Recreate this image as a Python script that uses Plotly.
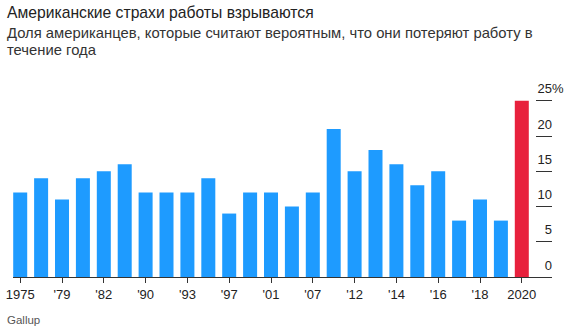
import plotly.graph_objects as go

years = ["1975", "1977", "1979", "1980", "1982", "1989", "1990", "1991", "1993",
         "1995", "1997", "1999", "2001", "2005", "2007", "2009", "2012", "2013",
         "2014", "2015", "2016", "2017", "2018", "2019", "2020"]
values = [12, 14, 11, 14, 15, 16, 12, 12, 12, 14, 9, 12, 12, 10, 12, 21, 15, 18,
          16, 13, 15, 8, 11, 8, 25]
tick_years = ["1975", "1979", "1982", "1990", "1993", "1997", "2001", "2007",
              "2012", "2014", "2016", "2018", "2020"]
tick_labels = ["1975", "'79", "'82", "'90", "'93", "'97", "'01", "'07", "'12",
               "'14", "'16", "'18", "2020"]
y_ticks = [0, 5, 10, 15, 20, 25]
y_labels = ["\u20070", "\u20075", "10", "15", "20", "25%"]

title = "Американские страхи работы взрываются"
subtitle1 = "Доля американцев, которые считают вероятным, что они потеряют работу в"
subtitle2 = "течение года"
source = "Gallup"

BLUE = "#1E9BFF"
RED = "#E8213D"
FONT = "Liberation Sans, Arial, sans-serif"

colors = [RED if y == "2020" else BLUE for y in years]

W, H = 570, 335
ML, MR, MT, MB = 13, 18, 90, 58
PW = W - ML - MR
PH = H - MT - MB


def px_x(p):
    return (p - ML) / PW


def px_y(p):
    return (H - MB - p) / PH


fig = go.Figure()
fig.add_trace(go.Bar(x=years, y=values, marker_color=colors, marker_line_width=0,
                     hoverinfo="x+y"))
# invisible companion trace so the label axis (y2) gets drawn
fig.add_trace(go.Scatter(x=years, y=values, yaxis="y2", mode="lines",
                         line=dict(width=0), opacity=0, hoverinfo="skip",
                         showlegend=False))

ytop = PH / 7.05

fig.update_layout(
    width=W, height=H,
    margin=dict(l=ML, r=MR, t=MT, b=MB, pad=0, autoexpand=False),
    paper_bgcolor="white", plot_bgcolor="white",
    showlegend=False,
    bargap=0.33,
    font=dict(family=FONT, size=13, color="#333333"),
    xaxis=dict(
        type="category", range=[-0.345, 25.445], domain=[0, 1],
        showline=True, linecolor="#333333", linewidth=1,
        ticks="outside", ticklen=5, tickcolor="#333333", tickwidth=1,
        tickvals=tick_years, ticktext=tick_labels,
        tickfont=dict(size=13, color="#222222"), automargin=False,
        showgrid=False, zeroline=False, fixedrange=True,
    ),
    yaxis=dict(
        range=[0, ytop], side="right", anchor="x",
        showline=False, showgrid=False, zeroline=False,
        ticks="inside", ticklen=16, tickcolor="#333333", tickwidth=1,
        tickvals=y_ticks, showticklabels=False, fixedrange=True,
        automargin=False,
    ),
    yaxis2=dict(
        range=[0, ytop], overlaying="y", side="right", anchor="free",
        position=px_x(536.5), autoshift=False, automargin=False,
        showline=False, showgrid=False, zeroline=False, ticks="",
        tickvals=y_ticks, ticktext=y_labels, ticklabelshift=-12,
        tickfont=dict(size=13, color="#222222"), fixedrange=True,
    ),
)

fig.add_annotation(text=title, xref="paper", yref="paper", x=px_x(4.5), y=px_y(13),
                   xanchor="left", yanchor="middle", showarrow=False,
                   font=dict(size=15.7, color="#222222", family=FONT))
fig.add_annotation(text=subtitle1, xref="paper", yref="paper", x=px_x(4.5), y=px_y(32.5),
                   xanchor="left", yanchor="middle", showarrow=False,
                   font=dict(size=14.8, color="#333333", family=FONT))
fig.add_annotation(text=subtitle2, xref="paper", yref="paper", x=px_x(4.5), y=px_y(49.5),
                   xanchor="left", yanchor="middle", showarrow=False,
                   font=dict(size=14.8, color="#333333", family=FONT))
fig.add_annotation(text=source, xref="paper", yref="paper", x=px_x(5), y=px_y(319.5),
                   xanchor="left", yanchor="middle", showarrow=False,
                   font=dict(size=11.5, color="#555555", family=FONT))

fig.write_html("out.html", config={"displayModeBar": False})
